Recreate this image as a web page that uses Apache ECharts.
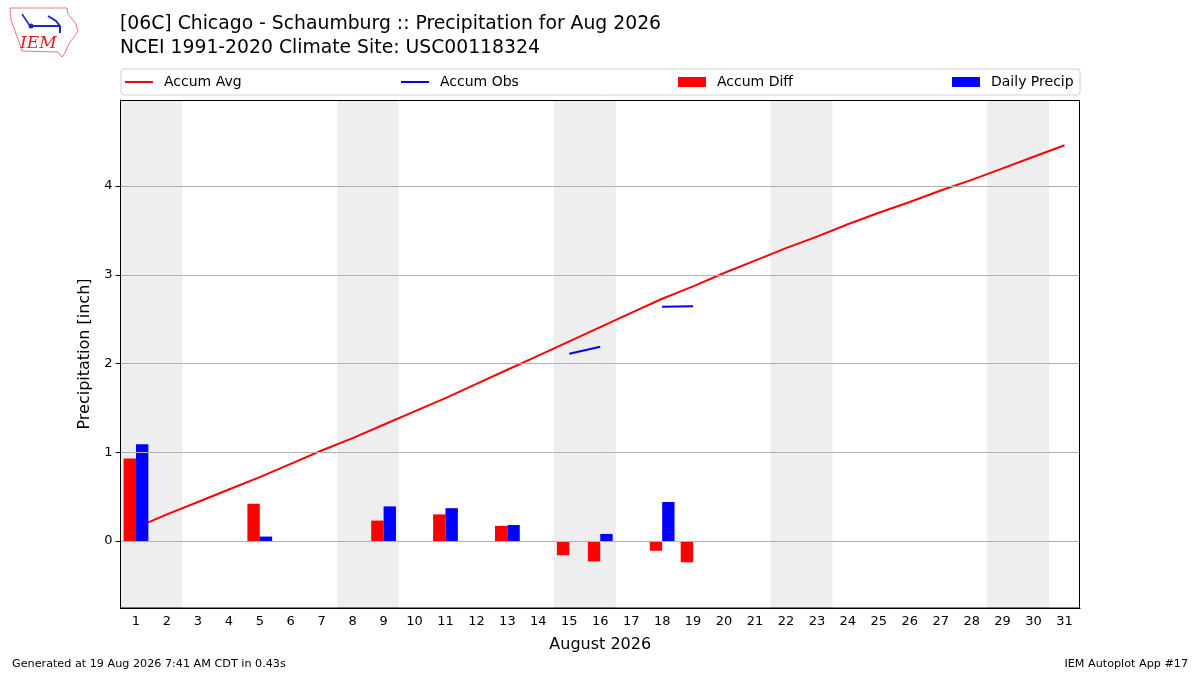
<!DOCTYPE html>
<html>
<head>
<meta charset="utf-8">
<script src="https://cdn.jsdelivr.net/npm/echarts@6/dist/echarts.min.js"></script>
<style>
  html, body { margin: 0; padding: 0; background: #fff; }
  #main { width: 1200px; height: 675px; }
</style>
</head>
<body>
<div id="main"></div>
<script>
// days of August 2026
var days = [];
for (var d = 1; d <= 31; d++) days.push(String(d));

// climatology accumulated average (inch)
var accumAvg = [0.15, 0.30, 0.44, 0.58, 0.72, 0.87, 1.02, 1.16, 1.31, 1.46,
                1.61, 1.77, 1.93, 2.09, 2.25, 2.41, 2.57, 2.73, 2.87, 3.02,
                3.16, 3.30, 3.43, 3.57, 3.70, 3.82, 3.95, 4.07, 4.20, 4.33, 4.46];
// observed accumulation (only drawn where reported)
var accumObs = [null, null, null, null, null, null, null, null, null, null,
                null, null, null, null, 2.11, 2.19, null, 2.64, 2.645, null,
                null, null, null, null, null, null, null, null, null, null, null];
// accumulated departure
var accumDiff = [0.93, null, null, null, 0.42, null, null, null, 0.23, null,
                 0.30, null, 0.17, null, -0.16, -0.23, null, -0.11, -0.24, null,
                 null, null, null, null, null, null, null, null, null, null, null];
// daily precipitation
var dailyPrecip = [1.09, null, null, null, 0.05, null, null, null, 0.39, null,
                   0.37, null, 0.18, null, null, 0.08, null, 0.44, null, null,
                   null, null, null, null, null, null, null, null, null, null, null];
// weekend shading (day ranges)
var weekendBands = [[0.5, 2.5], [7.5, 9.5], [14.5, 16.5], [21.5, 23.5], [28.5, 30.5]];
var yTicks = [0, 1, 2, 3, 4];

var myChart = echarts.init(document.getElementById('main'));
var font = 'DejaVu Sans';

var legendBase = function (name, left, line) {
    return {
        data: [{ name: name, icon: 'rect' }],
        left: left,
        top: 75,
        padding: 0,
        itemWidth: 28,
        itemHeight: line ? 2 : 10,
        itemGap: 0,
        textStyle: { fontFamily: font, fontSize: 14, color: '#000', padding: [0, 0, 0, 6] },
        selectedMode: false
    };
};

var option = {
    animation: false,
    backgroundColor: '#fff',
    textStyle: { fontFamily: font },
    grid: {
        left: 120.5, right: 120, top: 100, bottom: 67,
        show: false
    },
    legend: [
        legendBase('Accum Avg', 125, true),
        legendBase('Accum Obs', 401, true),
        legendBase('Accum Diff', 678, false),
        legendBase('Daily Precip', 952, false)
    ],
    xAxis: [
        {
            type: 'category',
            data: days,
            boundaryGap: true,
            name: 'August 2026',
            nameLocation: 'middle',
            nameGap: 29,
            nameTextStyle: { fontFamily: font, fontSize: 16, color: '#000' },
            axisLine: { onZero: false, lineStyle: { color: '#000' } },
            axisTick: { alignWithLabel: true, length: 5, lineStyle: { color: '#000' } },
            axisLabel: { fontFamily: font, fontSize: 13, color: '#000', margin: 7, interval: 0 },
            splitLine: { show: false },
            z: 5
        },
        {
            type: 'value',
            min: 0.5,
            max: 31.5,
            show: false
        }
    ],
    yAxis: {
        type: 'value',
        min: -0.755,
        max: 4.97,
        name: 'Precipitation [inch]',
        nameLocation: 'middle',
        nameGap: 23,
        nameTextStyle: { fontFamily: font, fontSize: 16, color: '#000' },
        axisLine: { show: true, lineStyle: { color: '#000' } },
        axisTick: { show: true, length: 5, customValues: yTicks, lineStyle: { color: '#000' } },
        axisLabel: { fontFamily: font, fontSize: 13, color: '#000', margin: 8, customValues: yTicks },
        splitLine: { show: false },
        z: 5
    },
    graphic: [
        // legend frame
        { type: 'rect', shape: { x: 121, y: 69, width: 959, height: 26, r: 3 },
          style: { fill: 'rgba(255,255,255,0.8)', stroke: '#d0d0d0', lineWidth: 1 }, z: -1 },
        // plot frame
        { type: 'rect', shape: { x: 120.5, y: 100.5, width: 959, height: 507.5 },
          style: { fill: null, stroke: '#000', lineWidth: 1 }, z: 10, silent: true },
        // titles
        { type: 'text', left: 120, top: 15,
          style: { text: '[06C] Chicago - Schaumburg :: Precipitation for Aug 2026',
                   font: '18.8px "DejaVu Sans"', fill: '#000' } },
        { type: 'text', left: 120, top: 39,
          style: { text: 'NCEI 1991-2020 Climate Site: USC00118324',
                   font: '18.8px "DejaVu Sans"', fill: '#000' } },
        // footer
        { type: 'text', left: 12, top: 659,
          style: { text: 'Generated at 19 Aug 2026 7:41 AM CDT in 0.43s',
                   font: '11.2px "DejaVu Sans"', fill: '#000' } },
        { type: 'text', right: 12, top: 659,
          style: { text: 'IEM Autoplot App #17',
                   font: '11.2px "DejaVu Sans"', fill: '#000' } },
        // IEM logo
        { type: 'polygon',
          shape: { points: [[10, 8], [67, 8], [68, 14], [72, 19], [76, 24], [78, 31], [74, 37],
                            [70, 42], [67, 48], [65, 53], [62, 57], [58, 52], [22, 51], [19, 42],
                            [15, 31], [11, 20]] },
          style: { fill: '#fff', stroke: '#e87878', lineWidth: 1 } },
        { type: 'polyline', shape: { points: [[30, 26], [60, 26]] },
          style: { stroke: '#2222cc', lineWidth: 2 } },
        { type: 'polyline', shape: { points: [[22, 14], [30, 26]] },
          style: { stroke: '#2222cc', lineWidth: 1.5 } },
        { type: 'polyline', shape: { points: [[48, 16], [56, 21], [60, 26], [60, 33]] },
          style: { stroke: '#2222cc', lineWidth: 2 } },
        { type: 'circle', shape: { cx: 31, cy: 26, r: 2.5 }, style: { fill: '#2222cc' } },
        { type: 'text', left: 20, top: 35,
          style: { text: 'IEM', font: 'italic 17px "DejaVu Serif"', fill: '#d42020' } }
    ],
    series: [
        {
            // weekend shading and horizontal grid lines
            name: 'bands',
            type: 'line',
            xAxisIndex: 1,
            data: [[1, null]],
            symbol: 'none',
            silent: true,
            z: 0,
            markArea: {
                silent: true,
                itemStyle: { color: '#eeeeee' },
                data: weekendBands.map(function (b) { return [{ xAxis: b[0] }, { xAxis: b[1] }]; })
            },
            markLine: {
                silent: true,
                symbol: ['none', 'none'],
                label: { show: false },
                lineStyle: { color: '#b0b0b0', width: 1, type: 'solid' },
                data: yTicks.map(function (v) { return { yAxis: v }; })
            }
        },
        {
            name: 'Accum Diff',
            type: 'bar',
            data: accumDiff,
            barWidth: '40%',
            barGap: '0%',
            itemStyle: { color: '#ff0000' },
            z: 2
        },
        {
            name: 'Daily Precip',
            type: 'bar',
            data: dailyPrecip,
            barWidth: '40%',
            barGap: '0%',
            itemStyle: { color: '#0000ff' },
            z: 2
        },
        {
            name: 'Accum Avg',
            type: 'line',
            data: accumAvg,
            symbol: 'none',
            lineStyle: { color: '#ff0000', width: 2 },
            itemStyle: { color: '#ff0000' },
            z: 1
        },
        {
            name: 'Accum Obs',
            type: 'line',
            data: accumObs,
            symbol: 'none',
            connectNulls: false,
            lineStyle: { color: '#0000ff', width: 2 },
            itemStyle: { color: '#0000ff' },
            z: 3
        }
    ]
};

myChart.setOption(option);
</script>
</body>
</html>
